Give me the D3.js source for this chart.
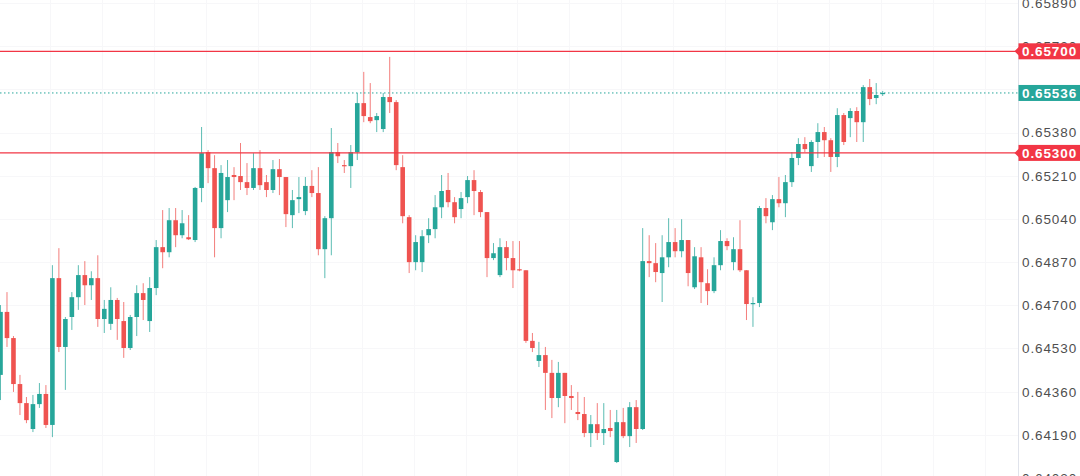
<!DOCTYPE html>
<html>
<head>
<meta charset="utf-8">
<script src="https://cdn.jsdelivr.net/npm/d3@7/dist/d3.min.js"></script>
<style>
html,body{margin:0;padding:0;background:#fff;}
svg{display:block;}
</style>
</head>
<body>
<div id="chart"></div>
<script>
const opens = [0.64426,0.64674,0.64571,0.64390,0.64315,0.64213,0.64311,0.64351,0.64229,0.64807,
0.64536,0.64654,0.64732,0.64819,0.64779,0.64807,0.64646,0.64627,0.64721,0.64638,
0.64532,0.64654,0.64748,0.64638,0.64768,0.64929,0.64909,0.65035,0.64976,0.64968,
0.64957,0.65162,0.65303,0.65240,0.65004,0.65114,0.65213,0.65209,0.65185,0.65162,
0.65240,0.65185,0.65154,0.65236,0.65205,0.65055,0.65118,0.65071,0.65170,0.65142,
0.64921,0.65043,0.65303,0.65252,0.65248,0.65303,0.65496,0.65441,0.65429,0.65394,
0.65520,0.65500,0.65244,0.65047,0.64870,0.64870,0.64976,0.65000,0.65086,0.65154,
0.65106,0.65079,0.65126,0.65193,0.65146,0.65067,0.64886,0.64819,0.64929,0.64886,
0.64842,0.64838,0.64560,0.64481,0.64504,0.64434,0.64335,0.64434,0.64343,0.64280,
0.64272,0.64197,0.64232,0.64197,0.64217,0.64083,0.64240,0.64185,0.64299,0.64213,
0.64874,0.64866,0.64827,0.64889,0.64949,0.64913,0.64957,0.64771,0.64889,0.64787,
0.64756,0.64858,0.64953,0.64870,0.64921,0.64838,0.64705,0.64709,0.65083,0.65027,
0.65118,0.65102,0.65185,0.65280,0.65335,0.65248,0.65343,0.65382,0.65350,0.65284,
0.65449,0.65437,0.65465,0.65421,0.65559,0.65516,0.65532];
const highs = [0.64701,0.64752,0.64579,0.64426,0.64339,0.64347,0.64394,0.64386,0.64858,0.64925,
0.64654,0.64752,0.64858,0.64874,0.64834,0.64897,0.64721,0.64771,0.64729,0.64713,
0.64662,0.64779,0.64787,0.64811,0.64957,0.65075,0.65083,0.65083,0.65075,0.65055,
0.65166,0.65402,0.65311,0.65291,0.65252,0.65272,0.65244,0.65339,0.65260,0.65299,
0.65311,0.65213,0.65272,0.65276,0.65205,0.65154,0.65205,0.65205,0.65232,0.65244,
0.65051,0.65398,0.65339,0.65272,0.65331,0.65536,0.65619,0.65575,0.65457,0.65536,
0.65678,0.65508,0.65291,0.65055,0.64976,0.64996,0.65043,0.65134,0.65213,0.65221,
0.65126,0.65146,0.65209,0.65232,0.65154,0.65067,0.64945,0.64964,0.64953,0.64953,
0.64953,0.64838,0.64591,0.64556,0.64536,0.64485,0.64477,0.64434,0.64386,0.64359,
0.64339,0.64268,0.64315,0.64315,0.64288,0.64288,0.64296,0.64319,0.64327,0.65004,
0.64976,0.64945,0.64976,0.65043,0.65004,0.65039,0.64957,0.64929,0.64929,0.64842,
0.64889,0.64996,0.64964,0.64968,0.65035,0.64838,0.64732,0.65091,0.65122,0.65134,
0.65205,0.65213,0.65303,0.65358,0.65362,0.65350,0.65417,0.65402,0.65358,0.65476,
0.65457,0.65476,0.65480,0.65567,0.65591,0.65575,0.65544];
const lows = [0.64327,0.64536,0.64359,0.64268,0.64236,0.64201,0.64296,0.64217,0.64181,0.64516,
0.64367,0.64603,0.64682,0.64701,0.64721,0.64615,0.64591,0.64603,0.64564,0.64493,
0.64524,0.64579,0.64642,0.64595,0.64740,0.64846,0.64889,0.64929,0.64964,0.64957,
0.64949,0.65106,0.65181,0.64889,0.64964,0.65067,0.65114,0.65154,0.65134,0.65154,
0.65154,0.65126,0.65142,0.65134,0.65008,0.65004,0.65063,0.65055,0.65126,0.64897,
0.64807,0.64897,0.65260,0.65221,0.65162,0.65272,0.65421,0.65417,0.65382,0.65382,
0.65457,0.65232,0.65023,0.64827,0.64838,0.64831,0.64945,0.64964,0.65043,0.65086,
0.65023,0.65043,0.65102,0.65055,0.65047,0.64811,0.64878,0.64811,0.64838,0.64768,
0.64834,0.64552,0.64516,0.64457,0.64288,0.64256,0.64299,0.64236,0.64288,0.64248,
0.64181,0.64142,0.64170,0.64150,0.64181,0.64079,0.64177,0.64142,0.64158,0.64209,
0.64811,0.64791,0.64713,0.64850,0.64889,0.64889,0.64775,0.64764,0.64709,0.64701,
0.64748,0.64838,0.64917,0.64838,0.64831,0.64642,0.64615,0.64693,0.65023,0.64996,
0.65086,0.65047,0.65166,0.65252,0.65303,0.65225,0.65280,0.65284,0.65225,0.65244,
0.65331,0.65362,0.65343,0.65343,0.65488,0.65492,0.65524];
const closes = [0.64674,0.64571,0.64390,0.64315,0.64248,0.64311,0.64351,0.64229,0.64807,0.64536,
0.64646,0.64732,0.64819,0.64779,0.64807,0.64646,0.64686,0.64721,0.64646,0.64532,
0.64654,0.64748,0.64721,0.64768,0.64929,0.64909,0.65035,0.64976,0.65023,0.64960,
0.65162,0.65299,0.65240,0.65004,0.65221,0.65205,0.65205,0.65185,0.65162,0.65240,
0.65173,0.65154,0.65236,0.65205,0.65059,0.65114,0.65126,0.65170,0.65142,0.64921,
0.65043,0.65303,0.65287,0.65248,0.65303,0.65496,0.65445,0.65425,0.65445,0.65520,
0.65500,0.65252,0.65051,0.64870,0.64949,0.64972,0.65000,0.65086,0.65150,0.65106,
0.65047,0.65122,0.65193,0.65150,0.65067,0.64886,0.64905,0.64929,0.64886,0.64838,
0.64838,0.64560,0.64532,0.64504,0.64434,0.64335,0.64434,0.64343,0.64335,0.64272,
0.64197,0.64232,0.64197,0.64213,0.64205,0.64240,0.64185,0.64299,0.64213,0.64874,
0.64866,0.64831,0.64889,0.64949,0.64913,0.64957,0.64827,0.64893,0.64791,0.64756,
0.64858,0.64953,0.64933,0.64921,0.64838,0.64705,0.64709,0.65083,0.65051,0.65118,
0.65102,0.65185,0.65280,0.65335,0.65315,0.65343,0.65382,0.65350,0.65284,0.65449,
0.65343,0.65465,0.65421,0.65559,0.65512,0.65528,0.65536];

const tickValues = [0.6589,0.6572,0.6555,0.6538,0.6521,0.6504,0.6487,0.6470,0.6453,0.6436,0.6419,0.6402];
const resistanceLevels = [0.65700, 0.65300];
const lastPrice = 0.65536;
const gridStartIndex = 7.7, gridStep = 8;

const W = 1080, H = 476;
const plotRight = 1018.5;
const UP = "#26a69a", DOWN = "#ef5350", LINE_RED = "#f23645";

const svg = d3.select("#chart").append("svg").attr("width", W).attr("height", H)
  .style("font-family", "'Liberation Sans', Arial, sans-serif");

const x = d3.scaleLinear().domain([0, opens.length - 1]).range([0.5, 882.7]);
const y = d3.scaleLinear().domain([0.64028, 0.65902]).range([H, 0]);
const bodyW = 4.6;

// grid
const gGrid = svg.append("g");
gGrid.selectAll("line.h").data(tickValues).join("line")
  .attr("x1", 0).attr("x2", plotRight)
  .attr("y1", d => Math.round(y(d)) + 0.5).attr("y2", d => Math.round(y(d)) + 0.5)
  .attr("stroke", "#f7f7f9").attr("stroke-width", 1);
const vIdx = d3.range(gridStartIndex, x.invert(plotRight), gridStep);
gGrid.selectAll("line.v").data(vIdx).join("line")
  .attr("x1", d => Math.round(x(d)) + 0.5).attr("x2", d => Math.round(x(d)) + 0.5)
  .attr("y1", 0).attr("y2", H)
  .attr("stroke", "#f7f7f9").attr("stroke-width", 1);

// candles
const data = opens.map((o, i) => ({i, o, h: highs[i], l: lows[i], c: closes[i]}));
const gC = svg.append("g");
const col = d => d.c >= d.o ? UP : DOWN;
gC.selectAll("line.wick").data(data).join("line")
  .attr("x1", d => x(d.i)).attr("x2", d => x(d.i))
  .attr("y1", d => y(d.h)).attr("y2", d => y(d.l))
  .attr("stroke", col).attr("stroke-opacity", 0.75).attr("stroke-width", 1);
gC.selectAll("rect.body").data(data).join("rect")
  .attr("x", d => x(d.i) - bodyW / 2)
  .attr("width", bodyW)
  .attr("y", d => y(Math.max(d.o, d.c)))
  .attr("height", d => Math.max(1.2, Math.abs(y(d.o) - y(d.c))))
  .attr("fill", col);

// horizontal levels
svg.selectAll("line.level").data(resistanceLevels).join("line")
  .attr("x1", 0).attr("x2", plotRight)
  .attr("y1", d => y(d)).attr("y2", d => y(d))
  .attr("stroke", LINE_RED).attr("stroke-width", 1.3);
svg.append("line")
  .attr("x1", 0).attr("x2", plotRight)
  .attr("y1", y(lastPrice)).attr("y2", y(lastPrice))
  .attr("stroke", UP).attr("stroke-width", 1).attr("stroke-dasharray", "1.5,2.5");

// axis border
svg.append("line").attr("x1", plotRight).attr("x2", plotRight).attr("y1", 0).attr("y2", H)
  .attr("stroke", "#e0e3eb").attr("stroke-width", 1);

// tick labels (the one fully covered by the last-price label is not shown)
const shownTicks = tickValues.filter(v => Math.abs(y(v) - y(lastPrice)) > 6);
svg.selectAll("text.tick").data(shownTicks).join("text")
  .attr("x", plotRight + 3.5).attr("y", d => y(d))
  .attr("dy", "0.36em")
  .attr("fill", "#4f4f4f").attr("font-size", 13.5).attr("letter-spacing", "0.9px")
  .text(d => d.toFixed(5));

// price labels
const labels = resistanceLevels.map(v => ({v, fill: LINE_RED, arrow: true}))
  .concat([{v: lastPrice, fill: UP, arrow: false}]);
const gL = svg.selectAll("g.lab").data(labels).join("g")
  .attr("transform", d => `translate(0,${y(d.v)})`);
gL.append("rect").attr("x", plotRight).attr("y", -8).attr("width", W - plotRight).attr("height", 16)
  .attr("fill", d => d.fill);
gL.filter(d => d.arrow).append("path")
  .attr("d", `M${plotRight - 4},0 L${plotRight + 0.5},-4.5 L${plotRight + 0.5},4.5 Z`)
  .attr("fill", d => d.fill);
gL.append("text").attr("x", plotRight + 3.5).attr("y", 0).attr("dy", "0.36em")
  .attr("fill", "#fff").attr("font-size", 13.5).attr("letter-spacing", "0.9px")
  .attr("font-weight", 600)
  .text(d => d.v.toFixed(5));
</script>
</body>
</html>
